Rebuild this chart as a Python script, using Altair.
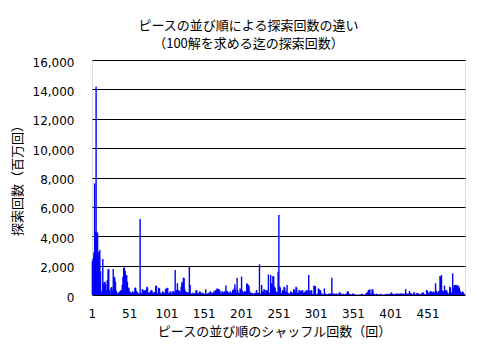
import altair as alt
import pandas as pd

# search counts (millions) for each shuffle count 1..500
v001_050 = [2300, 2500, 2900, 7600, 4300, 14200, 4300, 4200, 2900, 2950,
            3060, 1600, 200, 300, 2450, 800, 850, 900, 730, 300,
            1000, 1750, 1750, 350, 150, 500, 550, 300, 1770, 1250,
            1200, 900, 300, 150, 100, 150, 200, 250, 300, 350,
            680, 1250, 1860, 1860, 1630, 1360, 1360, 900, 500, 500]
v051_100 = [250, 200, 150, 100, 250, 200, 100, 500, 500, 300,
            200, 150, 100, 100, 5180, 150, 100, 400, 350, 200,
            300, 350, 300, 570, 500, 150, 100, 200, 250, 350,
            300, 100, 150, 200, 150, 640, 600, 100, 150, 500,
            450, 150, 100, 100, 250, 200, 150, 100, 400, 450]
v101_150 = [450, 500, 100, 150, 200, 250, 100, 150, 270, 250,
            150, 1700, 300, 350, 800, 340, 300, 250, 200, 570,
            860, 850, 1180, 1150, 400, 250, 200, 150, 200, 150,
            1930, 680, 100, 80, 150, 50, 100, 150, 100, 340,
            300, 100, 150, 120, 250, 200, 100, 80, 150, 120]
v151_200 = [50, 60, 400, 100, 80, 100, 150, 130, 250, 200,
            100, 150, 130, 250, 200, 340, 300, 450, 420, 400,
            380, 300, 150, 130, 250, 200, 150, 250, 200, 640,
            300, 250, 200, 150, 130, 250, 150, 130, 340, 300,
            450, 730, 400, 150, 1180, 300, 150, 130, 450, 400]
v201_250 = [1250, 300, 150, 200, 250, 250, 200, 800, 750, 680,
            600, 250, 150, 130, 150, 100, 80, 100, 150, 130,
            340, 150, 130, 150, 2090, 80, 100, 680, 250, 200,
            400, 350, 150, 340, 300, 300, 1400, 150, 150, 1360,
            800, 750, 1300, 1250, 570, 500, 250, 200, 150, 1590]
v251_300 = [5450, 600, 500, 150, 130, 340, 300, 570, 500, 250,
            200, 680, 150, 130, 100, 80, 250, 200, 150, 130,
            400, 350, 150, 570, 500, 150, 130, 340, 300, 250,
            200, 340, 300, 150, 130, 250, 200, 340, 300, 150,
            1360, 300, 100, 340, 300, 50, 60, 640, 600, 610]
v301_350 = [50, 40, 100, 450, 400, 340, 300, 100, 80, 50,
            40, 450, 100, 80, 50, 40, 50, 100, 80, 100,
            80, 1180, 100, 80, 100, 80, 40, 100, 80, 40,
            50, 180, 150, 100, 40, 50, 90, 60, 40, 50,
            100, 80, 270, 200, 100, 40, 50, 40, 30, 100]
v351_400 = [80, 40, 30, 40, 10, 10, 10, 10, 40, 30,
            10, 90, 60, 10, 10, 40, 30, 100, 180, 150,
            340, 300, 400, 100, 80, 400, 380, 100, 80, 40,
            30, 90, 40, 30, 40, 30, 90, 40, 30, 10,
            10, 40, 30, 40, 90, 60, 40, 30, 90, 80]
v401_450 = [90, 180, 90, 80, 40, 30, 90, 80, 90, 100,
            90, 80, 90, 90, 100, 80, 90, 90, 80, 90,
            400, 90, 80, 90, 90, 270, 140, 130, 90, 40,
            30, 180, 150, 40, 30, 140, 130, 90, 80, 40,
            30, 110, 100, 180, 150, 40, 30, 40, 340, 300]
v451_500 = [110, 180, 150, 270, 250, 180, 150, 230, 200, 110,
            800, 300, 180, 150, 270, 250, 1300, 1250, 1360, 300,
            270, 250, 640, 300, 340, 300, 180, 110, 100, 570,
            500, 180, 150, 1475, 500, 680, 680, 680, 650, 680,
            650, 570, 500, 270, 180, 150, 230, 200, 110, 40]

values = (v001_050 + v051_100 + v101_150 + v151_200 + v201_250 +
          v251_300 + v301_350 + v351_400 + v401_450 + v451_500)
shuffle = list(range(1, len(values) + 1))

x_ticks = [1, 51, 101, 151, 201, 251, 301, 351, 401, 451]
y_ticks = [0, 2000, 4000, 6000, 8000, 10000, 12000, 14000, 16000]

title_main = "ピースの並び順による探索回数の違い"
title_sub = "（100解を求める迄の探索回数）"
x_title = "ピースの並び順のシャッフル回数（回）"
y_title = "探索回数（百万回）"

df = pd.DataFrame({"n": shuffle, "v": values})

JP = "Noto Sans CJK JP"
NUM = "DejaVu Sans"

chart = alt.Chart(df).mark_bar(color="#0000FF", width=1.4, strokeWidth=0).encode(
    x=alt.X("n:O",
            scale=alt.Scale(paddingInner=0, paddingOuter=0),
            axis=alt.Axis(values=x_ticks, labelAngle=0, tickSize=0, domain=False, grid=False,
                          labelPadding=13, labelFont=NUM, labelFontSize=12, labelColor="black",
                          title=x_title, titleFont=JP, titleFontSize=13, titleFontWeight="normal",
                          titleColor="black", titleX=182, titleY=36,
                          titleAlign="center", titleBaseline="middle")),
    y=alt.Y("v:Q",
            scale=alt.Scale(domain=[0, 16000], nice=False),
            axis=alt.Axis(values=y_ticks, format=",.0f", tickSize=0, domain=False,
                          grid=True, gridColor="black", gridWidth=1, gridOpacity=1,
                          labelPadding=18, labelFont=NUM, labelFontSize=12, labelColor="black",
                          labelOffset=2,
                          title=y_title, titleFont=JP, titleFontSize=13, titleFontWeight="normal",
                          titleColor="black", titleX=-75, titleY=117,
                          titleAlign="center", titleBaseline="middle", titleAngle=-90)),
).properties(
    width=373,
    height=235,
    autosize="none",
    padding={"left": 84, "top": 52, "right": 20, "bottom": 45},
    title=alt.TitleParams(text=title_main, subtitle=title_sub,
                          font=JP, fontSize=13, fontWeight="normal", color="black",
                          subtitleFont=JP, subtitleFontSize=13, subtitleColor="black",
                          subtitlePadding=5,
                          anchor="middle", frame="group", dx=-30, offset=5),
).configure_view(stroke="black", strokeWidth=1).configure(background="white")

chart.save("out.html", embed_options={"renderer": "svg", "actions": False})
